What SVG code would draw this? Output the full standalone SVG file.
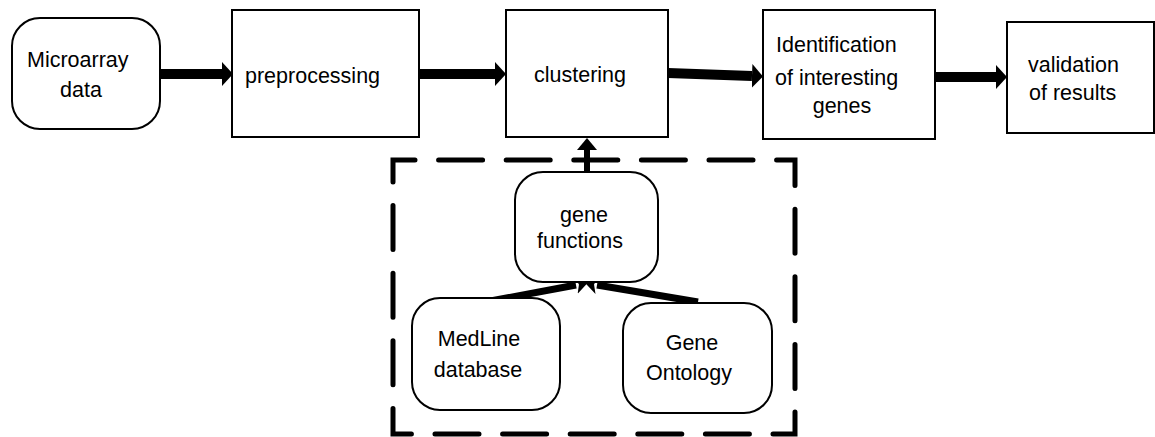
<svg xmlns="http://www.w3.org/2000/svg" width="1155" height="437" viewBox="0 0 1155 437">
<defs>
<style>
.box{fill:#fff;stroke:#000;stroke-width:2}
.t{font-family:"Liberation Sans",Arial,sans-serif;font-size:21.5px;fill:#000}
.m{text-anchor:middle}
.big{stroke:#000;stroke-width:10;fill:none}
.mid{stroke:#000;stroke-width:7;fill:none}
.sm{stroke:#000;stroke-width:6;fill:none}
</style>
<marker id="ah" markerUnits="userSpaceOnUse" viewBox="0 0 11 24" markerWidth="11" markerHeight="24" refX="0" refY="12" orient="auto"><path d="M0,0 L11,12 L0,24 z" fill="#000"/></marker>
<marker id="ahs" markerUnits="userSpaceOnUse" viewBox="0 0 12 20" markerWidth="12" markerHeight="20" refX="0" refY="10" orient="auto"><path d="M0,0 L12,10 L0,20 z" fill="#000"/></marker>
<marker id="ahx" markerUnits="userSpaceOnUse" viewBox="0 0 12 18" markerWidth="12" markerHeight="18" refX="0" refY="9" orient="auto"><path d="M0,0 L12,9 L0,18 L3,9 z" fill="#000"/></marker>
</defs>
<rect x="0" y="0" width="1155" height="437" fill="#fff"/>
<g id="group-box">
<rect x="393" y="160" width="402" height="274" fill="none" stroke="#000" stroke-width="5" stroke-dasharray="44 23.6" stroke-dashoffset="22" stroke-linecap="round"/>
</g>
<g id="connectors">
<line class="big" x1="160" y1="74" x2="222" y2="74" marker-end="url(#ah)"/>
<line class="big" x1="419" y1="74" x2="495" y2="74" marker-end="url(#ah)"/>
<line class="big" x1="668" y1="73" x2="752" y2="76" marker-end="url(#ah)"/>
<line class="big" x1="935" y1="77" x2="996" y2="77" marker-end="url(#ah)"/>
<line class="sm" x1="587" y1="172" x2="587" y2="150" marker-end="url(#ahs)"/>
<line class="mid" x1="485" y1="302" x2="576" y2="285" marker-end="url(#ahx)"/>
<line class="mid" x1="698" y1="302" x2="597" y2="285" marker-end="url(#ahx)"/>
</g>
<g id="microarray">
<rect class="box" x="12" y="18" width="148" height="111" rx="28"/>
<text class="t" x="27" y="67">Microarray</text>
<text class="t m" x="81" y="97">data</text>
</g>
<g id="preprocessing">
<rect class="box" x="232" y="10" width="187" height="127"/>
<text class="t" x="245" y="83">preprocessing</text>
</g>
<g id="clustering">
<rect class="box" x="506" y="10" width="162" height="127"/>
<text class="t" x="534" y="82">clustering</text>
</g>
<g id="identification">
<rect class="box" x="763" y="10" width="172" height="129"/>
<text class="t" x="776" y="52">Identification</text>
<text class="t" x="775" y="85">of interesting</text>
<text class="t m" x="842" y="113">genes</text>
</g>
<g id="validation">
<rect class="box" x="1007" y="22" width="147" height="111"/>
<text class="t" x="1028" y="72">validation</text>
<text class="t" x="1029" y="100">of results</text>
</g>
<g id="gene-functions">
<rect class="box" x="515" y="172" width="143" height="110" rx="28"/>
<text class="t m" x="584" y="222">gene</text>
<text class="t m" x="580" y="248">functions</text>
</g>
<g id="medline">
<rect class="box" x="412" y="298" width="148" height="112" rx="28"/>
<text class="t m" x="479" y="346">MedLine</text>
<text class="t m" x="478" y="377">database</text>
</g>
<g id="gene-ontology">
<rect class="box" x="623" y="303" width="149" height="110" rx="28"/>
<text class="t m" x="692" y="350">Gene</text>
<text class="t m" x="689" y="380">Ontology</text>
</g>
</svg>
